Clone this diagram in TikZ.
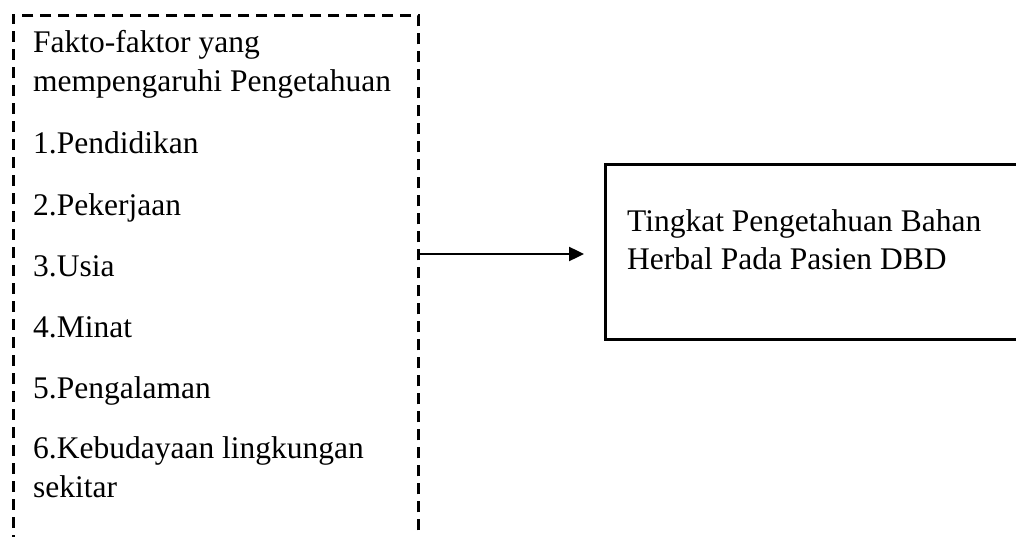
\documentclass[tikz,border=0pt]{standalone}
\usepackage{fontspec}
\setmainfont{Liberation Serif}
\usetikzlibrary{arrows.meta}
\begin{document}
\begin{tikzpicture}[x=1pt,y=-1pt,
  txt/.style={anchor=base west,inner sep=0pt,font=\fontsize{31.5}{38}\selectfont},
  dashbox/.style={draw,line width=2.6pt,dash pattern=on 11pt off 7pt,rectangle,inner sep=0pt,anchor=north west},
  solidbox/.style={draw,line width=2.6pt,rectangle,inner sep=0pt,anchor=north west},
  arr/.style={line width=2.4pt,-{Triangle[length=15pt,width=14pt]}}]
\useasboundingbox (0,0) rectangle (1016,537);
\clip (0,0) rectangle (1016,537);
% dashed box (continues below the picture)
\node[dashbox,minimum width=405pt,minimum height=560pt] (L) at (12,14) {};
% right box (continues past the right edge)
\node[solidbox,minimum width=430pt,minimum height=175pt] (R) at (604,163) {};
% left texts
\node[txt] (l1) at (33,53) {Fakto-faktor yang};
\node[txt] (l2) at (33,92) {mempengaruhi Pengetahuan};
\node[txt] (l3) at (33,154) {1.Pendidikan};
\node[txt] (l4) at (33,216) {2.Pekerjaan};
\node[txt] (l5) at (33,276) {3.Usia};
\node[txt] (l6) at (33,337) {4.Minat};
\node[txt] (l7) at (33,398) {5.Pengalaman};
\node[txt] (l8) at (33,458) {6.Kebudayaan lingkungan};
\node[txt] (l9) at (33,497) {sekitar};
% right texts
\node[txt] (r1) at (627,232) {Tingkat Pengetahuan Bahan};
\node[txt] (r2) at (627,269) {Herbal Pada Pasien DBD};
% arrow
\coordinate (a1) at (L.east |- 0,254);
\coordinate (a2) at (R.west |- 0,254);
\draw[arr,shorten >=20pt] (a1) -- (a2);
\end{tikzpicture}
\end{document}
